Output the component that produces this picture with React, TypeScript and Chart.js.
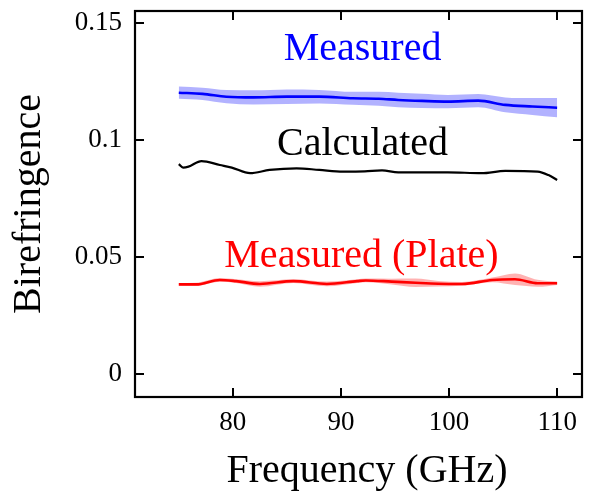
import React, { useEffect, useRef } from "react";
import { Chart, registerables } from "chart.js";

Chart.register(...registerables);

// Measured (blue) birefringence with uncertainty band
const blueFreq = [75.0, 77.2, 79.4, 81.9, 85.0, 88.0, 91.1, 93.5, 95.3, 97.5, 99.9, 102.7, 105.2, 107.7, 110.0];
const blueValue = [0.1202, 0.1197, 0.1185, 0.1182, 0.1185, 0.1185, 0.1178, 0.1176, 0.1171, 0.1167, 0.1164, 0.1168, 0.115, 0.1143, 0.1138];
const blueError = [0.0026, 0.0026, 0.0028, 0.003, 0.0031, 0.0029, 0.0028, 0.003, 0.0031, 0.003, 0.0028, 0.0028, 0.0032, 0.0036, 0.0041];

// Calculated (black)
const calcFreq = [75.0, 75.4, 75.9, 77.1, 78.8, 79.9, 81.6, 83.4, 85.9, 88.0, 90.2, 92.2, 93.8, 95.3, 99.9, 103.0, 105.2, 108.2, 109.2, 110.0];
const calcValue = [0.0897, 0.0882, 0.0886, 0.091, 0.0893, 0.0882, 0.0858, 0.0872, 0.0879, 0.0872, 0.0865, 0.0866, 0.087, 0.0862, 0.0862, 0.0858, 0.0868, 0.0865, 0.085, 0.0829];

// Measured (Plate) (red) with uncertainty band
const plateFreq = [75.0, 76.6, 78.8, 80.3, 82.5, 85.6, 88.7, 91.5, 92.3, 94.7, 96.9, 99.0, 101.2, 104.0, 106.1, 108.2, 110.0];
const plateValue = [0.0383, 0.0383, 0.0402, 0.0397, 0.0385, 0.0397, 0.0385, 0.0397, 0.04, 0.0395, 0.039, 0.0386, 0.0385, 0.0402, 0.0405, 0.0388, 0.0388];
const plateError = [0.0006, 0.0007, 0.0008, 0.0008, 0.0012, 0.0008, 0.001, 0.0008, 0.0008, 0.0012, 0.0018, 0.0012, 0.0008, 0.001, 0.0025, 0.0015, 0.0007];

// Axis ticks
const xTickValues = [80, 90, 100, 110];
const xTickLabels = ["80", "90", "100", "110"];
const yTickValues = [0, 0.05, 0.1, 0.15];
const yTickLabels = ["0", "0.05", "0.1", "0.15"];

// In-plot labels (anchored in data coordinates)
const annotationTexts = ["Measured", "Calculated", "Measured (Plate)"];
const annotationFreq = [92.0, 92.0, 91.9];
const annotationValue = [0.1342, 0.0936, 0.0457];
const annotationColors = ["#0000ff", "#000000", "#ff0000"];

const xTitle = "Frequency (GHz)";

const FONT = '"Liberation Serif", "Times New Roman", serif';

const toPoints = (xs: number[], ys: number[]) => xs.map((x, i) => ({ x, y: ys[i] }));

const framePlugin = {
  id: "frameAndLabels",
  afterDatasetsDraw(chart: any) {
    const { ctx, chartArea, scales } = chart;
    const { left, right, top, bottom } = chartArea;
    const x = scales.x;
    const y = scales.y;
    ctx.save();
    ctx.font = `40px ${FONT}`;
    ctx.textAlign = "center";
    ctx.textBaseline = "alphabetic";
    annotationTexts.forEach((t, i) => {
      ctx.fillStyle = annotationColors[i];
      ctx.fillText(t, x.getPixelForValue(annotationFreq[i]), y.getPixelForValue(annotationValue[i]));
    });
    // x-axis title
    ctx.fillStyle = "#000";
    ctx.fillText(xTitle, (left + right) / 2 + 8.5, bottom + 85);

    ctx.strokeStyle = "#000";
    ctx.lineWidth = 2.2;
    ctx.strokeRect(left, top, right - left, bottom - top);
    const len = 9;
    ctx.lineWidth = 2;
    ctx.beginPath();
    xTickValues.forEach((v) => {
      const px = Math.round(x.getPixelForValue(v));
      ctx.moveTo(px, bottom);
      ctx.lineTo(px, bottom - len);
      ctx.moveTo(px, top);
      ctx.lineTo(px, top + len);
    });
    yTickValues.forEach((v) => {
      const py = Math.round(y.getPixelForValue(v));
      ctx.moveTo(left, py);
      ctx.lineTo(left + len, py);
      ctx.moveTo(right, py);
      ctx.lineTo(right - len, py);
    });
    ctx.stroke();
    ctx.restore();
  },
};

export default function App() {
  const canvasRef = useRef<HTMLCanvasElement | null>(null);

  useEffect(() => {
    if (!canvasRef.current) return;
    const blueLower = blueValue.map((v, i) => v - blueError[i]);
    const blueUpper = blueValue.map((v, i) => v + blueError[i]);
    const plateLower = plateValue.map((v, i) => v - plateError[i]);
    const plateUpper = plateValue.map((v, i) => v + plateError[i]);

    const common = {
      pointRadius: 0,
      pointHoverRadius: 0,
      cubicInterpolationMode: "monotone" as const,
    };

    const chart = new Chart(canvasRef.current, {
      type: "line",
      data: {
        datasets: [
          { ...common, data: toPoints(blueFreq, blueLower), borderWidth: 0, borderColor: "rgba(0,0,0,0)", fill: false, order: 5 },
          { ...common, data: toPoints(blueFreq, blueUpper), borderWidth: 0, borderColor: "rgba(0,0,0,0)", backgroundColor: "rgba(0,0,255,0.3)", fill: "-1", order: 5 },
          { ...common, data: toPoints(plateFreq, plateLower), borderWidth: 0, borderColor: "rgba(0,0,0,0)", fill: false, order: 5 },
          { ...common, data: toPoints(plateFreq, plateUpper), borderWidth: 0, borderColor: "rgba(0,0,0,0)", backgroundColor: "rgba(255,0,0,0.3)", fill: "-1", order: 5 },
          { ...common, data: toPoints(blueFreq, blueValue), borderColor: "#0000ff", borderWidth: 2.6, fill: false, order: 1 },
          { ...common, data: toPoints(calcFreq, calcValue), borderColor: "#000000", borderWidth: 2.2, fill: false, order: 1 },
          { ...common, data: toPoints(plateFreq, plateValue), borderColor: "#ff0000", borderWidth: 2.6, fill: false, order: 1 },
        ],
      },
      options: {
        animation: false,
        responsive: false,
        maintainAspectRatio: false,
        devicePixelRatio: 1,
        layout: { padding: { left: 0, right: 12, top: 11, bottom: 0 } },
        plugins: {
          legend: { display: false },
          tooltip: { enabled: false },
        },
        events: [],
        scales: {
          x: {
            type: "linear",
            min: 70.95,
            max: 112.3,
            afterBuildTicks: (s: any) => {
              s.ticks = xTickValues.map((value) => ({ value }));
            },
            afterFit: (s: any) => {
              s.height = 97;
              s.paddingLeft = 0;
              s.paddingRight = 0;
            },
            ticks: {
              autoSkip: false,
              maxRotation: 0,
              padding: 10,
              color: "#000",
              font: { family: FONT, size: 27 },
              callback: (v: any) => {
                const i = xTickValues.findIndex((t) => Math.abs(t - Number(v)) < 1e-9);
                return i >= 0 ? xTickLabels[i] : "";
              },
            },
            grid: { display: false, drawTicks: false },
            border: { display: false },
            title: { display: false },
          },
          y: {
            type: "linear",
            min: -0.0098,
            max: 0.1551,
            afterBuildTicks: (s: any) => {
              s.ticks = yTickValues.map((value) => ({ value }));
            },
            afterFit: (s: any) => {
              s.width = 135;
              s.paddingTop = 0;
              s.paddingBottom = 0;
            },
            ticks: {
              padding: 13,
              color: "#000",
              font: { family: FONT, size: 27 },
              callback: (v: any) => {
                const i = yTickValues.findIndex((t) => Math.abs(t - Number(v)) < 1e-9);
                return i >= 0 ? yTickLabels[i] : "";
              },
            },
            grid: { display: false, drawTicks: false },
            border: { display: false },
            title: {
              display: true,
              text: "Birefringence",
              color: "#000",
              font: { family: FONT, size: 40 },
              padding: { top: 5, bottom: 0 },
            },
          },
        },
      },
      plugins: [framePlugin],
    });
    return () => chart.destroy();
  }, []);

  return (
    <div style={{ position: "absolute", left: 0, top: 0, width: 594, height: 494, background: "#fff" }}>
      <canvas ref={canvasRef} width={594} height={494} style={{ display: "block", width: 594, height: 494 }} />
    </div>
  );
}
